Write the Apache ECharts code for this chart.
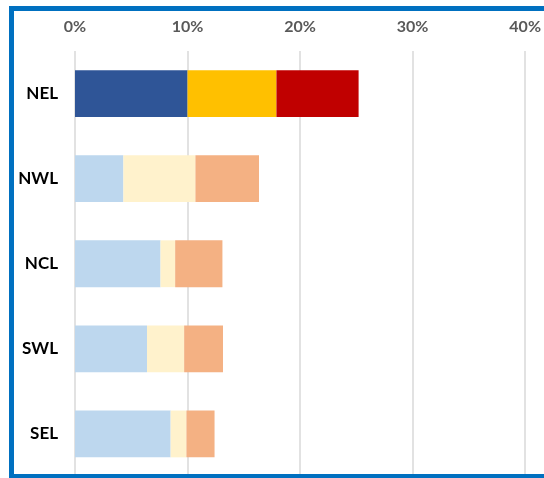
<!DOCTYPE html>
<html>
<head>
<meta charset="utf-8">
<script src="https://cdn.jsdelivr.net/npm/echarts@6/dist/echarts.min.js"></script>
<style>html,body{margin:0;padding:0;background:#fff}#c{width:544px;height:478px}</style>
</head>
<body>
<div id="c"></div>
<script>
const categories = ['NEL', 'NWL', 'NCL', 'SWL', 'SEL'];
const seg1 = [10.0, 4.3, 7.6, 6.4, 8.5];
const seg2 = [7.9, 6.4, 1.3, 3.3, 1.4];
const seg3 = [7.3, 5.65, 4.2, 3.45, 2.5];
const tickValues = [0, 10, 20, 30, 40];

const highlightColors = ['#2f5597', '#ffc000', '#c00000'];
const baseColors = ['#bdd7ee', '#fff2cc', '#f4b183'];

function mk(vals, idx) {
  return {
    type: 'bar', stack: 's', barWidth: '55%',
    data: vals.map((v, i) => ({
      value: v,
      itemStyle: { color: i === 0 ? highlightColors[idx] : baseColors[idx] }
    })),
    silent: true
  };
}

const chart = echarts.init(document.getElementById('c'), null, { renderer: 'canvas' });
chart.setOption({
  animation: false,
  grid: { left: 75, right: 18, top: 51, bottom: 1.5, containLabel: false },
  xAxis: {
    type: 'value', position: 'top', min: tickValues[0], max: tickValues[tickValues.length - 1], interval: 10,
    axisLine: { show: false }, axisTick: { show: false },
    splitLine: { lineStyle: { color: '#d9d9d9', width: 1.5 } },
    axisLabel: { formatter: '{value}%', color: '#595959', fontSize: 16, fontWeight: 'bold', fontFamily: 'Lato', margin: 16 }
  },
  yAxis: {
    type: 'category', data: categories, inverse: true,
    axisLine: { show: false }, axisTick: { show: false },
    axisLabel: { color: '#000', fontSize: 17, fontWeight: 'bold', fontFamily: 'Lato', margin: 17 }
  },
  series: [mk(seg1, 0), mk(seg2, 1), mk(seg3, 2)],
  graphic: [{
    type: 'rect', silent: true, z: 100,
    shape: { x: 11.5, y: 8.5, width: 620, height: 468 },
    style: { fill: 'none', stroke: '#0070c0', lineWidth: 5 }
  }]
});
</script>
</body>
</html>
